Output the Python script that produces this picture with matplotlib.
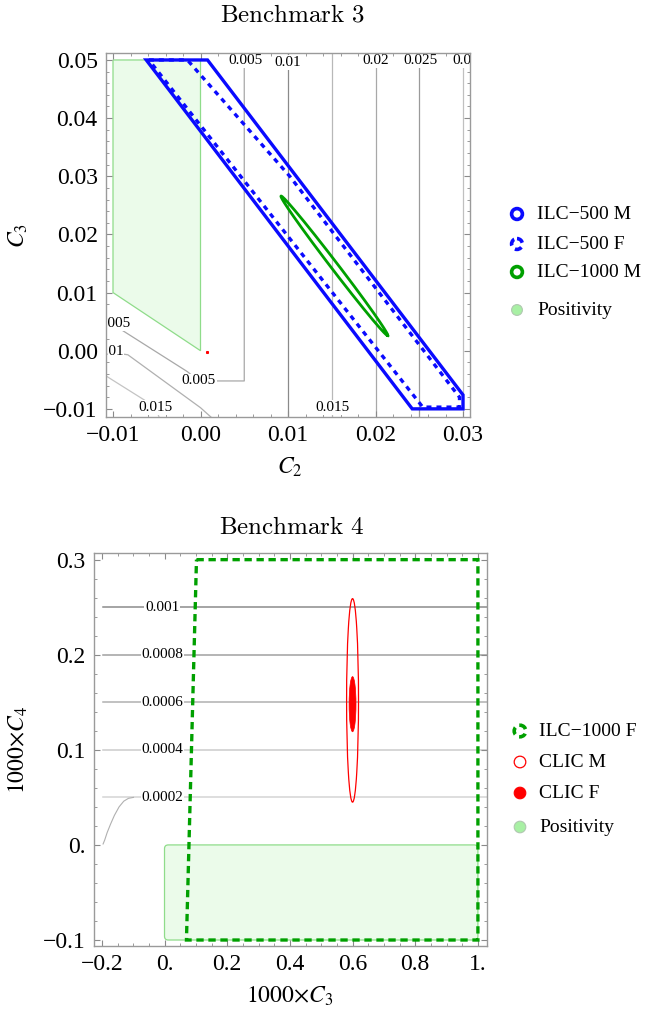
import numpy as np
import matplotlib.pyplot as plt
from matplotlib.patches import Polygon, Circle, Ellipse, FancyBboxPatch
from matplotlib.ticker import FixedLocator, MultipleLocator

plt.rcParams['font.family'] = ['Liberation Serif', 'DejaVu Serif']
plt.rcParams['mathtext.fontset'] = 'stix'

# ---- Benchmark 3 data ----
b3_pos_x = [-0.010, -0.010, 0.000, 0.000]
b3_pos_y = [0.050, 0.010, 0.000, 0.050]
b3_m500_x = [-0.0062, 0.0008, 0.0300, 0.0300, 0.0242]
b3_m500_y = [0.050, 0.050, -0.0076, -0.0100, -0.0100]
b3_f500_x = [-0.0059, -0.0015, 0.0102, 0.0296, 0.0296, 0.0254]
b3_f500_y = [0.050, 0.050, 0.0300, -0.0080, -0.0097, -0.0097]
b3_m1000_center = (0.0153, 0.0146)
b3_m1000_half_len = (0.0061, -0.0120)
b3_m1000_half_wid = (0.00032, 0.00037)

# contour lines (gray) of benchmark 3
b3_c005_x = [-0.0125, -0.0015, -0.0002, 0.0050, 0.0050]
b3_c005_y = [0.0069, -0.0036, -0.0052, -0.0052, 0.0600]
b3_c01_x = [-0.0125, -0.0083, 0.0000, 0.0020]
b3_c01_y = [0.0002, -0.0007, -0.0098, -0.0125]
b3_c015_x = [-0.0125, -0.0101, -0.0065, -0.0051, -0.0045]
b3_c015_y = [-0.0027, -0.0050, -0.0084, -0.0098, -0.0125]
b3_vert_x = [0.010, 0.015, 0.020, 0.025, 0.030]
b3_vert_col = ['#8a8a8a', '#b8b8b8', '#a8a8a8', '#9a9a9a', '#c0c0c0']
b3_labels = [('0.005', -0.0099, 0.0047), ('0.01', -0.0103, -0.0002),
             ('0.015', -0.0051, -0.0098), ('0.005', -0.0002, -0.0052),
             ('0.005', 0.0051, 0.0499), ('0.01', 0.0100, 0.0496),
             ('0.015', 0.0151, -0.0098), ('0.02', 0.0200, 0.0499),
             ('0.025', 0.0251, 0.0499), ('0.03', 0.0303, 0.0499)]

# ---- Benchmark 4 data ----
b4_levels = [0.25, 0.20, 0.15, 0.10, 0.05]
b4_level_labels = ['0.001', '0.0008', '0.0006', '0.0004', '0.0002']
b4_level_col = ['#8c8c8c', '#a0a0a0', '#b0b0b0', '#cccccc', '#d4d4d4']
b4_curve_x = [-0.099, -0.115, -0.130, -0.145, -0.160, -0.172, -0.183, -0.191, -0.196]
b4_curve_y = [0.050, 0.049, 0.046, 0.040, 0.031, 0.022, 0.013, 0.005, 0.001]
b4_f1000_x = [0.102, 1.000, 1.000, 0.070]
b4_f1000_y = [0.300, 0.300, -0.100, -0.100]
b4_pos_x = [0.0, 1.0]
b4_pos_y = [-0.1, 0.0]
clic_m = (0.60, 0.152, 0.038, 0.214)   # center x, center y, width, height
clic_f = (0.60, 0.148, 0.022, 0.058)

BLUE = '#0a0aff'
GREEN = '#00a000'
POS_FILL = '#ebfbea'
POS_EDGE = '#8fdc8a'

fig = plt.figure(figsize=(6.5, 10.13), dpi=100)


def style_axes(ax):
    for s in ax.spines.values():
        s.set_color('#9a9a9a')
        s.set_linewidth(1.0)
    ax.tick_params(which='both', direction='in', top=True, right=True,
                   colors='#8a8a8a', labelcolor='black', labelsize=17)
    ax.tick_params(which='major', length=4.5, width=0.8, pad=6)
    ax.tick_params(which='minor', length=2.5, width=0.6)


# ================= Benchmark 3 =================
ax1 = fig.add_axes([106 / 650, 1 - 417 / 1013, 364 / 650, 364 / 1013])
ax1.set_xlim(-0.0108, 0.0308)
ax1.set_ylim(-0.0114, 0.0512)

ax1.add_patch(Polygon(np.column_stack([b3_pos_x, b3_pos_y]), closed=True,
                      fc=POS_FILL, ec=POS_EDGE, lw=0.9, zorder=1))

for xv, c in zip(b3_vert_x, b3_vert_col):
    ax1.plot([xv, xv], [-0.02, 0.06], color=c, lw=0.9, zorder=1.5)
ax1.plot(b3_c005_x, b3_c005_y, color='#a8a8a8', lw=0.9, zorder=1.5)
ax1.plot(b3_c01_x, b3_c01_y, color='#b0b0b0', lw=0.9, zorder=1.5)
ax1.plot(b3_c015_x, b3_c015_y, color='#c4c4c4', lw=0.9, zorder=1.5)
for s, x, y in b3_labels:
    ax1.text(x, y, s, ha='center', va='center', fontsize=11, zorder=2,
             bbox=dict(fc='white', ec='none', pad=0.6), clip_on=True)

ax1.add_patch(Polygon(np.column_stack([b3_m500_x, b3_m500_y]), closed=True,
                      fill=False, ec=BLUE, lw=2.4, zorder=4))
ax1.add_patch(Polygon(np.column_stack([b3_f500_x, b3_f500_y]), closed=True,
                      fill=False, ec=BLUE, lw=2.4, ls=(0, (1.5, 1.5)), zorder=4))

t = np.linspace(0, 2 * np.pi, 300)
ex = b3_m1000_center[0] + np.cos(t) * b3_m1000_half_len[0] + np.sin(t) * b3_m1000_half_wid[0]
ey = b3_m1000_center[1] + np.cos(t) * b3_m1000_half_len[1] + np.sin(t) * b3_m1000_half_wid[1]
ax1.plot(ex, ey, color=GREEN, lw=2.0, zorder=5)
ax1.plot([0.0007], [-0.0002], 's', color='red', ms=1.2, zorder=5)

ax1.xaxis.set_major_locator(FixedLocator([-0.01, 0.0, 0.01, 0.02, 0.03]))
ax1.set_xticklabels(['\u22120.01', '0.00', '0.01', '0.02', '0.03'])
ax1.yaxis.set_major_locator(FixedLocator([-0.01, 0.0, 0.01, 0.02, 0.03, 0.04, 0.05]))
ax1.set_yticklabels(['\u22120.01', '0.00', '0.01', '0.02', '0.03', '0.04', '0.05'])
ax1.xaxis.set_minor_locator(MultipleLocator(0.002))
ax1.yaxis.set_minor_locator(MultipleLocator(0.002))
style_axes(ax1)

# ================= Benchmark 4 =================
ax2 = fig.add_axes([94 / 650, 1 - 946 / 1013, 393 / 650, 393 / 1013])
ax2.set_xlim(-0.225, 1.029)
ax2.set_ylim(-0.1063, 0.307)

ax2.add_patch(FancyBboxPatch((b4_pos_x[0], b4_pos_y[0]), b4_pos_x[1] - b4_pos_x[0],
                             b4_pos_y[1] - b4_pos_y[0],
                             boxstyle='round,pad=0,rounding_size=0.012',
                             mutation_aspect=0.33, fc=POS_FILL, ec=POS_EDGE,
                             lw=0.9, zorder=1))

for lev, lab, c in zip(b4_levels, b4_level_labels, b4_level_col):
    ax2.plot([-0.197, 1.1], [lev, lev], color=c, lw=1.1, zorder=1.5)
    ax2.text(-0.007, lev, lab, ha='center', va='center', fontsize=11, zorder=2,
             bbox=dict(fc='white', ec='none', pad=0.5))
ax2.plot(b4_curve_x, b4_curve_y, color='#b0b0b0', lw=0.8, zorder=1.5)

ax2.add_patch(Polygon(np.column_stack([b4_f1000_x, b4_f1000_y]), closed=True,
                      fill=False, ec=GREEN, lw=2.4, ls=(0, (2.2, 1.4)), zorder=4))
ax2.add_patch(Ellipse(clic_m[:2], clic_m[2], clic_m[3], fill=False,
                      ec='red', lw=0.9, zorder=5))
ax2.add_patch(Ellipse(clic_f[:2], clic_f[2], clic_f[3], fc='red',
                      ec='red', lw=0.5, zorder=5))

ax2.xaxis.set_major_locator(FixedLocator([-0.2, 0.0, 0.2, 0.4, 0.6, 0.8, 1.0]))
ax2.set_xticklabels(['\u22120.2', '0.', '0.2', '0.4', '0.6', '0.8', '1.'])
ax2.yaxis.set_major_locator(FixedLocator([-0.1, 0.0, 0.1, 0.2, 0.3]))
ax2.set_yticklabels(['\u22120.1', '0.', '0.1', '0.2', '0.3'])
ax2.xaxis.set_minor_locator(MultipleLocator(0.05))
ax2.yaxis.set_minor_locator(MultipleLocator(0.02))
style_axes(ax2)

# ================= titles, labels, legends =================
fig.text(292 / 650, 1 - 15 / 1013, r'$\mathrm{Benchmark\ 3}$', math_fontfamily='cm',
         fontsize=18, ha='center', va='center')
fig.text(292 / 650, 1 - 528 / 1013, r'$\mathrm{Benchmark\ 4}$', math_fontfamily='cm',
         fontsize=18, ha='center', va='center')
fig.text(290 / 650, 1 - 467 / 1013, r'$C_2$', fontsize=17, ha='center', va='center')
fig.text(290 / 650, 1 - 996 / 1013, r'$1000{\times}C_3$', fontsize=17, ha='center', va='center')
fig.text(18 / 650, 1 - 236 / 1013, r'$C_3$', fontsize=17, ha='center', va='center', rotation=90)
fig.text(18 / 650, 1 - 750 / 1013, r'$1000{\times}C_4$', fontsize=17, ha='center', va='center',
         rotation=90)

lg = fig.add_axes([0, 0, 1, 1])
lg.set_xlim(0, 650)
lg.set_ylim(1013, 0)
lg.axis('off')
lg.patch.set_alpha(0)

leg_top = [('ILC\u2212500 M', 214, dict(fill=False, ec=BLUE, lw=2.6)),
           ('ILC\u2212500 F', 244, dict(fill=False, ec=BLUE, lw=2.6, ls=(0, (2.0, 1.3)))),
           ('ILC\u22121000 M', 272, dict(fill=False, ec=GREEN, lw=2.6)),
           ('Positivity', 310, dict(fc='#a8f0a4', ec='#b0c8b0', lw=0.8))]
for lab, y, kw in leg_top:
    lg.add_patch(Circle((517, y), 5.4, **kw))
    lg.text(537, y, lab, fontsize=14, va='center', ha='left')

leg_bot = [('ILC\u22121000 F', 731, dict(fill=False, ec=GREEN, lw=2.6, ls=(0, (2.0, 1.3)))),
           ('CLIC M', 762, dict(fill=False, ec='red', lw=0.9)),
           ('CLIC F', 793, dict(fc='red', ec='red', lw=0.8)),
           ('Positivity', 827, dict(fc='#a8f0a4', ec='#b0c8b0', lw=0.8))]
for lab, y, kw in leg_bot:
    lg.add_patch(Circle((520, y), 5.8, **kw))
    lg.text(539, y, lab, fontsize=14, va='center', ha='left')

fig.savefig('out.png', dpi=100)
